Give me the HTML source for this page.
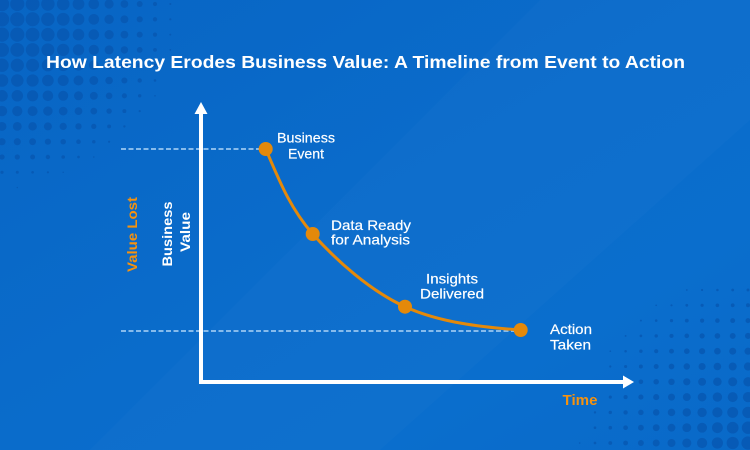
<!DOCTYPE html>
<html><head><meta charset="utf-8"><style>
html,body{margin:0;padding:0;background:#0a6bc9;width:750px;height:450px;overflow:hidden;}
svg{display:block;}
text{font-family:"Liberation Sans",sans-serif;}
</style></head><body>
<svg width="750" height="450" viewBox="0 0 750 450" xmlns="http://www.w3.org/2000/svg">
<defs>
<linearGradient id="bg" x1="0" y1="0" x2="1" y2="1">
<stop offset="0" stop-color="#0865c4"/>
<stop offset="0.5" stop-color="#0a6ccb"/>
<stop offset="0.75" stop-color="#0a6ecd"/>
<stop offset="1" stop-color="#0969c8"/>
</linearGradient>
</defs>
<rect width="750" height="450" fill="url(#bg)"/>
<polygon points="540,0 750,0 750,120 380,450 90,450" fill="#ffffff" opacity="0.02"/>
<g fill="#0756b0" opacity="0.75">
<circle cx="2" cy="4" r="7.2"/><circle cx="17.3" cy="4" r="7.1"/><circle cx="32.6" cy="4" r="6.9"/><circle cx="47.9" cy="4" r="6.7"/><circle cx="63.2" cy="4" r="6.3"/><circle cx="78.5" cy="4" r="5.9"/><circle cx="93.8" cy="4" r="5.3"/><circle cx="109.1" cy="4" r="4.6"/><circle cx="124.4" cy="4" r="3.9"/><circle cx="139.7" cy="4" r="3.0"/><circle cx="155" cy="4" r="2.1"/><circle cx="170.3" cy="4" r="1.0"/>
<circle cx="2" cy="19.3" r="7.2"/><circle cx="17.3" cy="19.3" r="7.1"/><circle cx="32.6" cy="19.3" r="7.0"/><circle cx="47.9" cy="19.3" r="6.7"/><circle cx="63.2" cy="19.3" r="6.4"/><circle cx="78.5" cy="19.3" r="5.9"/><circle cx="93.8" cy="19.3" r="5.35"/><circle cx="109.1" cy="19.3" r="4.7"/><circle cx="124.4" cy="19.3" r="3.95"/><circle cx="139.7" cy="19.3" r="3.1"/><circle cx="155" cy="19.3" r="2.15"/><circle cx="170.3" cy="19.3" r="1.1"/>
<circle cx="2" cy="34.6" r="7.1"/><circle cx="17.3" cy="34.6" r="7.1"/><circle cx="32.6" cy="34.6" r="6.9"/><circle cx="47.9" cy="34.6" r="6.7"/><circle cx="63.2" cy="34.6" r="6.3"/><circle cx="78.5" cy="34.6" r="5.8"/><circle cx="93.8" cy="34.6" r="5.3"/><circle cx="109.1" cy="34.6" r="4.6"/><circle cx="124.4" cy="34.6" r="3.9"/><circle cx="139.7" cy="34.6" r="3.0"/><circle cx="155" cy="34.6" r="2.1"/><circle cx="170.3" cy="34.6" r="1.0"/>
<circle cx="2" cy="49.9" r="7.0"/><circle cx="17.3" cy="49.9" r="6.9"/><circle cx="32.6" cy="49.9" r="6.8"/><circle cx="47.9" cy="49.9" r="6.5"/><circle cx="63.2" cy="49.9" r="6.15"/><circle cx="78.5" cy="49.9" r="5.7"/><circle cx="93.8" cy="49.9" r="5.1"/><circle cx="109.1" cy="49.9" r="4.5"/><circle cx="124.4" cy="49.9" r="3.7"/><circle cx="139.7" cy="49.9" r="2.9"/><circle cx="155" cy="49.9" r="1.9"/><circle cx="170.3" cy="49.9" r="0.9"/>
<circle cx="2" cy="65.2" r="6.7"/><circle cx="17.3" cy="65.2" r="6.6"/><circle cx="32.6" cy="65.2" r="6.5"/><circle cx="47.9" cy="65.2" r="6.2"/><circle cx="63.2" cy="65.2" r="5.9"/><circle cx="78.5" cy="65.2" r="5.4"/><circle cx="93.8" cy="65.2" r="4.85"/><circle cx="109.1" cy="65.2" r="4.2"/><circle cx="124.4" cy="65.2" r="3.45"/><circle cx="139.7" cy="65.2" r="2.6"/><circle cx="155" cy="65.2" r="1.65"/>
<circle cx="2" cy="80.5" r="6.3"/><circle cx="17.3" cy="80.5" r="6.25"/><circle cx="32.6" cy="80.5" r="6.1"/><circle cx="47.9" cy="80.5" r="5.8"/><circle cx="63.2" cy="80.5" r="5.5"/><circle cx="78.5" cy="80.5" r="5.0"/><circle cx="93.8" cy="80.5" r="4.45"/><circle cx="109.1" cy="80.5" r="3.8"/><circle cx="124.4" cy="80.5" r="3.05"/><circle cx="139.7" cy="80.5" r="2.2"/><circle cx="155" cy="80.5" r="1.25"/>
<circle cx="2" cy="95.8" r="5.8"/><circle cx="17.3" cy="95.8" r="5.75"/><circle cx="32.6" cy="95.8" r="5.6"/><circle cx="47.9" cy="95.8" r="5.3"/><circle cx="63.2" cy="95.8" r="5.0"/><circle cx="78.5" cy="95.8" r="4.5"/><circle cx="93.8" cy="95.8" r="3.95"/><circle cx="109.1" cy="95.8" r="3.3"/><circle cx="124.4" cy="95.8" r="2.55"/><circle cx="139.7" cy="95.8" r="1.7"/><circle cx="155" cy="95.8" r="0.8"/>
<circle cx="2" cy="111.1" r="5.2"/><circle cx="17.3" cy="111.1" r="5.1"/><circle cx="32.6" cy="111.1" r="5.0"/><circle cx="47.9" cy="111.1" r="4.7"/><circle cx="63.2" cy="111.1" r="4.35"/><circle cx="78.5" cy="111.1" r="3.9"/><circle cx="93.8" cy="111.1" r="3.35"/><circle cx="109.1" cy="111.1" r="2.7"/><circle cx="124.4" cy="111.1" r="1.95"/><circle cx="139.7" cy="111.1" r="1.1"/>
<circle cx="2" cy="126.4" r="4.45"/><circle cx="17.3" cy="126.4" r="4.4"/><circle cx="32.6" cy="126.4" r="4.25"/><circle cx="47.9" cy="126.4" r="4.0"/><circle cx="63.2" cy="126.4" r="3.6"/><circle cx="78.5" cy="126.4" r="3.15"/><circle cx="93.8" cy="126.4" r="2.6"/><circle cx="109.1" cy="126.4" r="1.95"/><circle cx="124.4" cy="126.4" r="1.2"/>
<circle cx="2" cy="141.7" r="3.6"/><circle cx="17.3" cy="141.7" r="3.55"/><circle cx="32.6" cy="141.7" r="3.4"/><circle cx="47.9" cy="141.7" r="3.1"/><circle cx="63.2" cy="141.7" r="2.75"/><circle cx="78.5" cy="141.7" r="2.3"/><circle cx="93.8" cy="141.7" r="1.75"/><circle cx="109.1" cy="141.7" r="1.1"/>
<circle cx="2" cy="157" r="2.65"/><circle cx="17.3" cy="157" r="2.6"/><circle cx="32.6" cy="157" r="2.45"/><circle cx="47.9" cy="157" r="2.2"/><circle cx="63.2" cy="157" r="1.8"/><circle cx="78.5" cy="157" r="1.35"/><circle cx="93.8" cy="157" r="0.8"/>
<circle cx="2" cy="172.3" r="1.6"/><circle cx="17.3" cy="172.3" r="1.5"/><circle cx="32.6" cy="172.3" r="1.35"/><circle cx="47.9" cy="172.3" r="1.1"/><circle cx="63.2" cy="172.3" r="0.75"/>
<circle cx="17.3" cy="187.6" r="0.7"/>
</g>
<g fill="#0756b0" opacity="0.75">
<circle cx="748" cy="443" r="6.6"/><circle cx="732.7" cy="443" r="6.1"/><circle cx="717.4" cy="443" r="5.6"/><circle cx="702.1" cy="443" r="5.1"/><circle cx="686.8" cy="443" r="4.55"/><circle cx="671.5" cy="443" r="4.0"/><circle cx="656.2" cy="443" r="3.5"/><circle cx="640.9" cy="443" r="2.95"/><circle cx="625.6" cy="443" r="2.4"/><circle cx="610.3" cy="443" r="1.9"/><circle cx="595" cy="443" r="1.35"/><circle cx="579.7" cy="443" r="0.8"/>
<circle cx="748" cy="427.7" r="6.2"/><circle cx="732.7" cy="427.7" r="5.85"/><circle cx="717.4" cy="427.7" r="5.4"/><circle cx="702.1" cy="427.7" r="4.95"/><circle cx="686.8" cy="427.7" r="4.45"/><circle cx="671.5" cy="427.7" r="3.9"/><circle cx="656.2" cy="427.7" r="3.4"/><circle cx="640.9" cy="427.7" r="2.9"/><circle cx="625.6" cy="427.7" r="2.35"/><circle cx="610.3" cy="427.7" r="1.8"/><circle cx="595" cy="427.7" r="1.3"/>
<circle cx="748" cy="412.4" r="5.7"/><circle cx="732.7" cy="412.4" r="5.45"/><circle cx="717.4" cy="412.4" r="5.1"/><circle cx="702.1" cy="412.4" r="4.7"/><circle cx="686.8" cy="412.4" r="4.2"/><circle cx="671.5" cy="412.4" r="3.75"/><circle cx="656.2" cy="412.4" r="3.25"/><circle cx="640.9" cy="412.4" r="2.75"/><circle cx="625.6" cy="412.4" r="2.2"/><circle cx="610.3" cy="412.4" r="1.7"/><circle cx="595" cy="412.4" r="1.2"/>
<circle cx="748" cy="397.1" r="5.15"/><circle cx="732.7" cy="397.1" r="5.0"/><circle cx="717.4" cy="397.1" r="4.7"/><circle cx="702.1" cy="397.1" r="4.35"/><circle cx="686.8" cy="397.1" r="3.95"/><circle cx="671.5" cy="397.1" r="3.5"/><circle cx="656.2" cy="397.1" r="3.05"/><circle cx="640.9" cy="397.1" r="2.55"/><circle cx="625.6" cy="397.1" r="2.05"/><circle cx="610.3" cy="397.1" r="1.55"/><circle cx="595" cy="397.1" r="1.05"/>
<circle cx="748" cy="381.8" r="4.65"/><circle cx="732.7" cy="381.8" r="4.5"/><circle cx="717.4" cy="381.8" r="4.25"/><circle cx="702.1" cy="381.8" r="3.95"/><circle cx="686.8" cy="381.8" r="3.6"/><circle cx="671.5" cy="381.8" r="3.2"/><circle cx="656.2" cy="381.8" r="2.75"/><circle cx="640.9" cy="381.8" r="2.3"/><circle cx="625.6" cy="381.8" r="1.85"/><circle cx="610.3" cy="381.8" r="1.35"/><circle cx="595" cy="381.8" r="0.85"/>
<circle cx="748" cy="366.5" r="4.1"/><circle cx="732.7" cy="366.5" r="4.0"/><circle cx="717.4" cy="366.5" r="3.8"/><circle cx="702.1" cy="366.5" r="3.55"/><circle cx="686.8" cy="366.5" r="3.2"/><circle cx="671.5" cy="366.5" r="2.85"/><circle cx="656.2" cy="366.5" r="2.45"/><circle cx="640.9" cy="366.5" r="2.0"/><circle cx="625.6" cy="366.5" r="1.55"/><circle cx="610.3" cy="366.5" r="1.1"/>
<circle cx="748" cy="351.2" r="3.55"/><circle cx="732.7" cy="351.2" r="3.5"/><circle cx="717.4" cy="351.2" r="3.3"/><circle cx="702.1" cy="351.2" r="3.1"/><circle cx="686.8" cy="351.2" r="2.8"/><circle cx="671.5" cy="351.2" r="2.45"/><circle cx="656.2" cy="351.2" r="2.1"/><circle cx="640.9" cy="351.2" r="1.7"/><circle cx="625.6" cy="351.2" r="1.25"/><circle cx="610.3" cy="351.2" r="0.85"/>
<circle cx="748" cy="335.9" r="3.05"/><circle cx="732.7" cy="335.9" r="2.95"/><circle cx="717.4" cy="335.9" r="2.8"/><circle cx="702.1" cy="335.9" r="2.6"/><circle cx="686.8" cy="335.9" r="2.35"/><circle cx="671.5" cy="335.9" r="2.05"/><circle cx="656.2" cy="335.9" r="1.7"/><circle cx="640.9" cy="335.9" r="1.35"/><circle cx="625.6" cy="335.9" r="0.95"/>
<circle cx="748" cy="320.6" r="2.5"/><circle cx="732.7" cy="320.6" r="2.45"/><circle cx="717.4" cy="320.6" r="2.3"/><circle cx="702.1" cy="320.6" r="2.1"/><circle cx="686.8" cy="320.6" r="1.9"/><circle cx="671.5" cy="320.6" r="1.6"/><circle cx="656.2" cy="320.6" r="1.3"/><circle cx="640.9" cy="320.6" r="0.95"/>
<circle cx="748" cy="305.3" r="2.0"/><circle cx="732.7" cy="305.3" r="1.9"/><circle cx="717.4" cy="305.3" r="1.8"/><circle cx="702.1" cy="305.3" r="1.6"/><circle cx="686.8" cy="305.3" r="1.4"/><circle cx="671.5" cy="305.3" r="1.1"/><circle cx="656.2" cy="305.3" r="0.85"/>
<circle cx="748" cy="290" r="1.45"/><circle cx="732.7" cy="290" r="1.4"/><circle cx="717.4" cy="290" r="1.25"/><circle cx="702.1" cy="290" r="1.1"/><circle cx="686.8" cy="290" r="0.9"/>
</g>

<text x="365.5" y="68" fill="#ffffff" font-size="17.5" font-weight="bold" text-anchor="middle" textLength="639" lengthAdjust="spacingAndGlyphs">How Latency Erodes Business Value: A Timeline from Event to Action</text>

<g stroke="#86bbec" stroke-width="2" stroke-dasharray="5 2.5" fill="none">
<line x1="121" y1="149" x2="262" y2="149"/>
<line x1="121" y1="331" x2="517" y2="331"/>
</g>

<g fill="#ffffff">
<rect x="199" y="112" width="4" height="272"/>
<rect x="199" y="380" width="425" height="4"/>
<polygon points="201,102 194.5,114 207.5,114"/>
<polygon points="634,382 623,375.5 623,388.5"/>
</g>

<path d="M265.7,149 C279.3,180.7 289.8,207.7 312.7,234 C336.2,260.3 370.3,291 405,306.7 C439.7,322.5 482.3,327.3 520.7,330" stroke="#e4890a" stroke-width="3" fill="none"/>
<g fill="#e4890a">
<circle cx="265.7" cy="149" r="7"/>
<circle cx="312.7" cy="234" r="7"/>
<circle cx="405" cy="306.7" r="7"/>
<circle cx="520.7" cy="330" r="7"/>
</g>

<g fill="#ffffff" font-size="14" text-anchor="middle" stroke="#ffffff" stroke-width="0.2">
<text x="306" y="142.7" textLength="58" lengthAdjust="spacingAndGlyphs">Business</text>
<text x="306" y="158.3" textLength="36" lengthAdjust="spacingAndGlyphs">Event</text>
<text x="371" y="230" textLength="80" lengthAdjust="spacingAndGlyphs">Data Ready</text>
<text x="370.5" y="244.3" textLength="79" lengthAdjust="spacingAndGlyphs">for Analysis</text>
<text x="452" y="283.3" textLength="52" lengthAdjust="spacingAndGlyphs">Insights</text>
<text x="452" y="298.7" textLength="64" lengthAdjust="spacingAndGlyphs">Delivered</text>
<text x="571" y="334" textLength="42" lengthAdjust="spacingAndGlyphs">Action</text>
<text x="570.5" y="349.3" textLength="41" lengthAdjust="spacingAndGlyphs">Taken</text>
</g>

<text x="580" y="405" fill="#f5920f" font-size="14.5" font-weight="bold" text-anchor="middle" textLength="35" lengthAdjust="spacingAndGlyphs">Time</text>

<g font-size="14" font-weight="bold" text-anchor="middle">
<text transform="translate(137,234.5) rotate(-90)" fill="#f5920f" textLength="75" lengthAdjust="spacingAndGlyphs">Value Lost</text>
<text transform="translate(172,234) rotate(-90)" fill="#ffffff" textLength="65" lengthAdjust="spacingAndGlyphs">Business</text>
<text transform="translate(190,232) rotate(-90)" fill="#ffffff" textLength="40" lengthAdjust="spacingAndGlyphs">Value</text>
</g>
</svg>
</body></html>
